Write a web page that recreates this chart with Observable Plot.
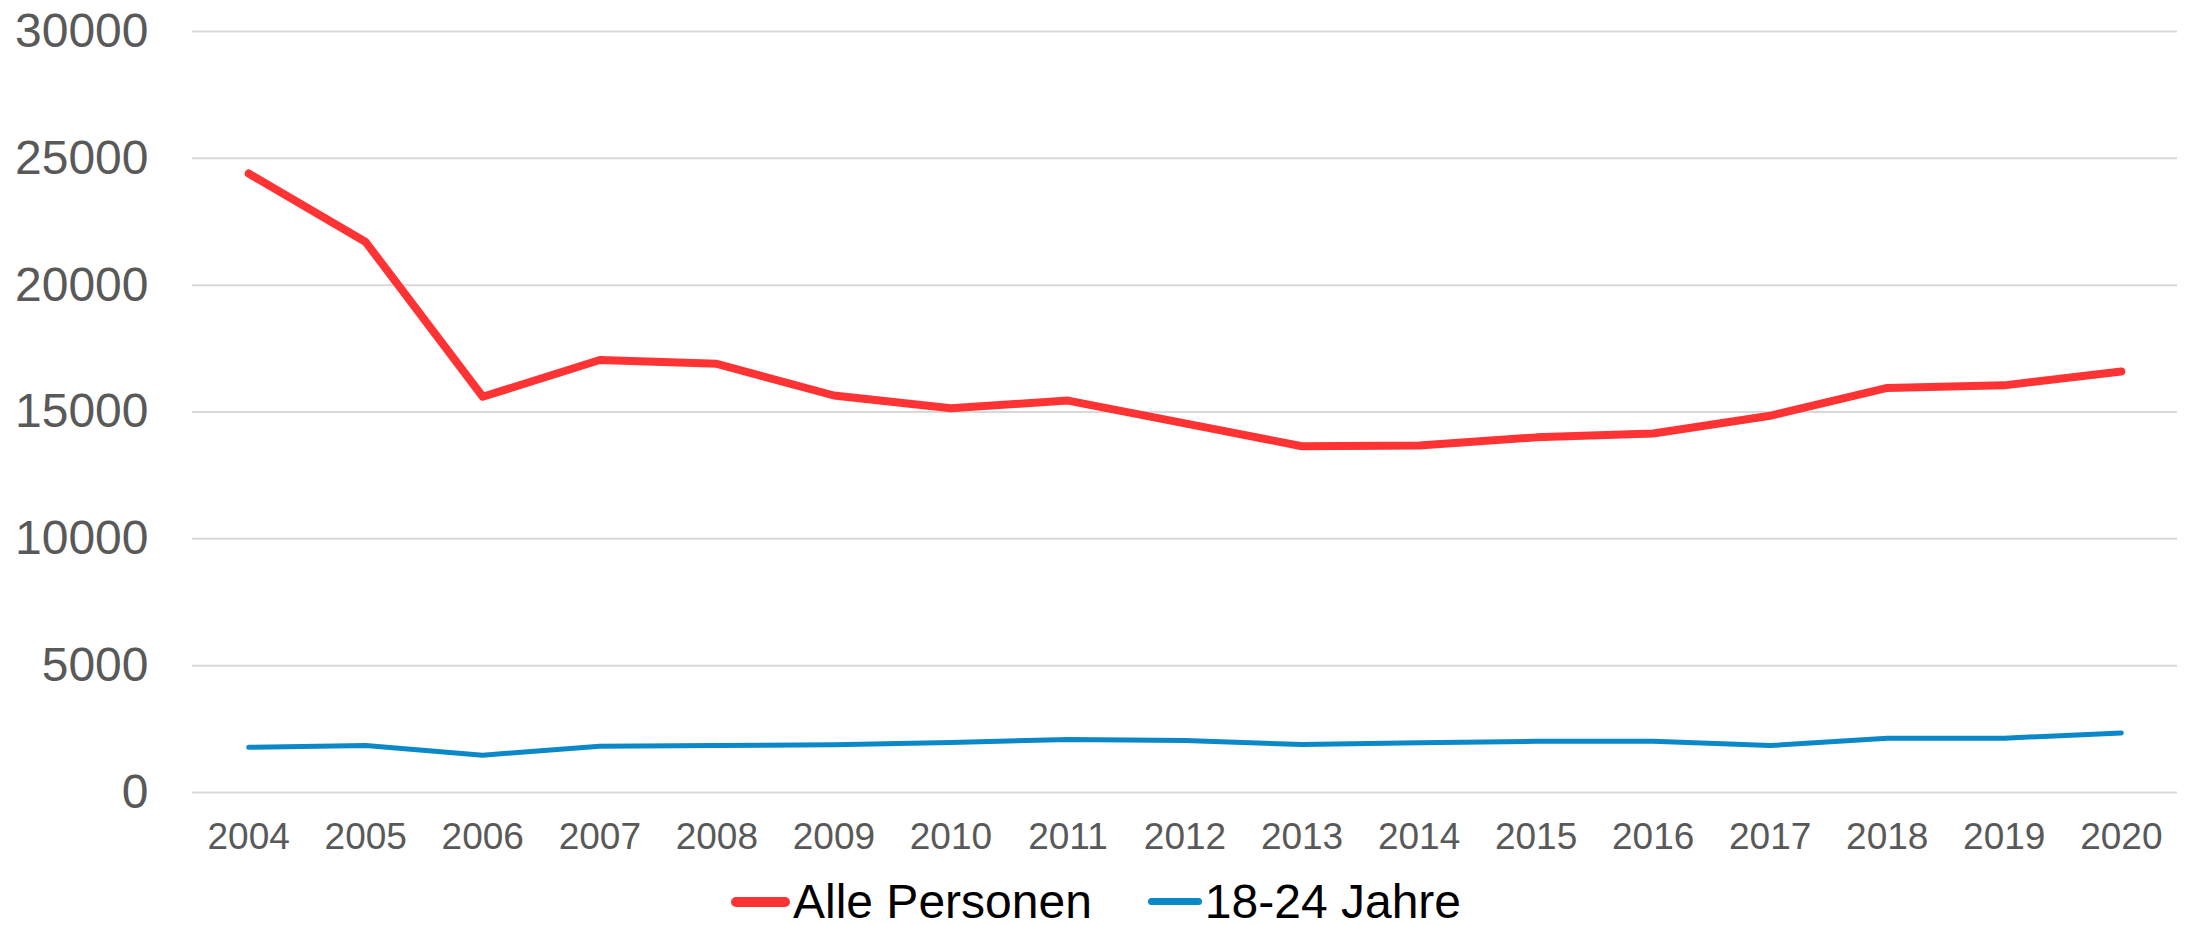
<!DOCTYPE html>
<html>
<head>
<meta charset="utf-8">
<script src="https://cdn.jsdelivr.net/npm/d3@7"></script>
<script src="https://cdn.jsdelivr.net/npm/@observablehq/plot@0.6"></script>
<style>
  html, body { margin: 0; padding: 0; background: #fff; overflow: hidden; }
  #chart svg { display: block; }
  .legend { display: flex; justify-content: center; align-items: center; height: 47px; line-height: 47px;
    font-family: "Liberation Sans", Arial, sans-serif; font-size: 48px; color: #000; }
  .item { display: flex; align-items: center; margin: 0 28px; }
  .sw { display: inline-block; border-radius: 6px; margin-right: 3px; }
</style>
</head>
<body>
<div id="chart"></div>
<div class="legend" id="legend"></div>
<script>
const years = ["2004","2005","2006","2007","2008","2009","2010","2011","2012","2013","2014","2015","2016","2017","2018","2019","2020"];
const allePersonen = [24400, 21700, 15600, 17050, 16900, 15650, 15150, 15450, 14550, 13650, 13680, 14000, 14150, 14850, 15950, 16050, 16600];
const jahre18_24 = [1780, 1850, 1470, 1825, 1850, 1880, 1970, 2090, 2050, 1890, 1960, 2020, 2020, 1850, 2140, 2140, 2350];
const seriesNames = ["Alle Personen", "18-24 Jahre"];
const seriesColors = ["#FF3333", "#0A88C8"];
const seriesWidths = [8, 5];
const yTicks = [0, 5000, 10000, 15000, 20000, 25000, 30000];

const data = [];
years.forEach((y, i) => {
  data.push({year: y, value: allePersonen[i], series: seriesNames[0]});
  data.push({year: y, value: jahre18_24[i], series: seriesNames[1]});
});

const font = "'Liberation Sans', Arial, sans-serif";
const chart = Plot.plot({
  width: 2192,
  height: 878,
  marginTop: 31,
  marginBottom: 86,
  marginLeft: 192,
  marginRight: 15,
  style: {fontFamily: font, background: "#fff"},
  x: {type: "point", domain: years, padding: 0.48, round: false},
  y: {domain: [0, 30000]},
  marks: [
    Plot.ruleY(yTicks, {stroke: "#d9d9d9", strokeWidth: 2}),
    Plot.axisY(yTicks, {tickSize: 0, tickPadding: 44, fontSize: 48, fill: "#595959", label: null, tickFormat: d3.format("d")}),
    Plot.axisX({tickSize: 0, tickPadding: 30, fontSize: 37, fill: "#595959", label: null}),
    ...seriesNames.map((s, k) => Plot.line(data.filter(d => d.series === s), {
      x: "year", y: "value", stroke: seriesColors[k], strokeWidth: seriesWidths[k],
      strokeLinecap: "round", strokeLinejoin: "round"
    }))
  ]
});
document.getElementById("chart").appendChild(chart);

const legend = document.getElementById("legend");
seriesNames.forEach((s, k) => {
  const item = document.createElement("div");
  item.className = "item";
  const sw = document.createElement("span");
  sw.className = "sw";
  sw.style.background = seriesColors[k];
  sw.style.width = (k === 0 ? 59 : 54) + "px";
  sw.style.height = (k === 0 ? 10 : 7) + "px";
  const t = document.createElement("span");
  t.textContent = s;
  item.appendChild(sw);
  item.appendChild(t);
  legend.appendChild(item);
});
</script>
</body>
</html>
